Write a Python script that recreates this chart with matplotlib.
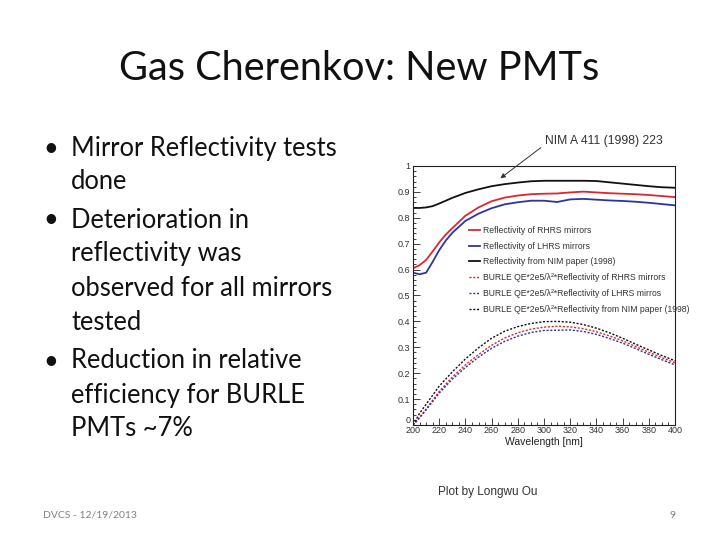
import matplotlib
matplotlib.use("Agg")
import matplotlib.pyplot as plt
from matplotlib.ticker import MultipleLocator, FuncFormatter

# ---- data ----
wl_ref = [200, 205, 210, 215, 220, 225, 230, 240, 250, 260, 270, 280, 290,
          300, 310, 320, 330, 340, 350, 360, 370, 380, 390, 400]
refl_nim = [0.838, 0.838, 0.840, 0.845, 0.855, 0.866, 0.877, 0.896, 0.910, 0.922,
            0.930, 0.936, 0.941, 0.943, 0.943, 0.943, 0.943, 0.942, 0.937, 0.932,
            0.927, 0.922, 0.918, 0.916]
refl_rhrs = [0.605, 0.617, 0.637, 0.670, 0.705, 0.735, 0.760, 0.808, 0.840, 0.864,
             0.878, 0.886, 0.891, 0.893, 0.894, 0.898, 0.901, 0.898, 0.895, 0.893,
             0.891, 0.888, 0.884, 0.880]
refl_lhrs = [0.588, 0.582, 0.588, 0.630, 0.675, 0.712, 0.742, 0.788, 0.816, 0.837,
             0.852, 0.860, 0.866, 0.866, 0.861, 0.871, 0.873, 0.870, 0.867, 0.865,
             0.862, 0.858, 0.853, 0.848]

wl_q = [200, 205, 210, 220, 230, 240, 250, 260, 270, 280, 290, 300, 310, 320,
        330, 340, 350, 360, 370, 380, 390, 400]
q_nim = [0.0, 0.045, 0.080, 0.150, 0.205, 0.255, 0.298, 0.335, 0.362, 0.380, 0.392,
         0.399, 0.400, 0.397, 0.388, 0.374, 0.356, 0.335, 0.312, 0.290, 0.268, 0.248]
q_rhrs = [0.0, 0.030, 0.062, 0.130, 0.185, 0.232, 0.272, 0.308, 0.336, 0.356, 0.370,
          0.378, 0.381, 0.379, 0.372, 0.360, 0.344, 0.325, 0.303, 0.281, 0.260, 0.240]
q_lhrs = [0.0, 0.027, 0.058, 0.123, 0.177, 0.222, 0.262, 0.296, 0.323, 0.343, 0.357,
          0.365, 0.366, 0.367, 0.361, 0.350, 0.334, 0.316, 0.295, 0.273, 0.252, 0.232]

labels = ["Reflectivity of RHRS mirrors",
          "Reflectivity of LHRS mirrors",
          "Reflectivity from NIM paper (1998)",
          "BURLE QE*2e5/\u03bb\u00b2*Reflectivity of RHRS mirrors",
          "BURLE QE*2e5/\u03bb\u00b2*Reflectivity of LHRS mirros",
          "BURLE QE*2e5/\u03bb\u00b2*Reflectivity from NIM paper (1998)"]

title = "Gas Cherenkov: New PMTs"
bullet_lines = [
    ("\u2022", "Mirror Reflectivity tests"),
    (None, "done"),
    ("\u2022", "Deterioration in"),
    (None, "reflectivity was"),
    (None, "observed for all mirrors"),
    (None, "tested"),
    ("\u2022", "Reduction in relative"),
    (None, "efficiency for BURLE"),
    (None, "PMTs ~7%"),
]
line_y = [148, 181, 220, 254, 288, 322, 361, 395, 429]

W, H = 720, 540
fig = plt.figure(figsize=(7.2, 5.4), dpi=100)
fig.patch.set_facecolor("white")

def fx(px):
    return px / W

def fy(py):
    return 1 - py / H

slide_font = ["Lato", "DejaVu Sans"]
fig.text(fx(359), fy(68), title, ha="center", va="center", fontsize=28.6,
         family=slide_font, color="#111111")

for (b, t), y in zip(bullet_lines, line_y):
    if b:
        fig.text(fx(43), fy(y), b, ha="left", va="center", fontsize=18.4,
                 family=slide_font, color="#111111")
    fig.text(fx(71), fy(y), t, ha="left", va="center", fontsize=18.4,
             family=slide_font, color="#111111")

fig.text(fx(43), fy(515), "DVCS - 12/19/2013", ha="left", va="center",
         fontsize=7.5, family=slide_font, color="#808080")
fig.text(fx(673), fy(515), "9", ha="center", va="center",
         fontsize=7.5, family=slide_font, color="#808080")
fig.text(fx(488), fy(492), "Plot by Longwu Ou", ha="center", va="center",
         fontsize=8.5, family="Liberation Sans", color="#333333")

# ---- chart ----
ax = fig.add_axes([fx(413), fy(425), fx(675) - fx(413), fy(166) - fy(425)])
red = "#e0262b"
blue = "#2a36a0"
black = "#111111"
ax.plot(wl_ref, refl_rhrs, color=red, lw=1.3, label=labels[0])
ax.plot(wl_ref, refl_lhrs, color=blue, lw=1.3, label=labels[1])
ax.plot(wl_ref, refl_nim, color=black, lw=1.3, label=labels[2])
ax.plot(wl_q, q_rhrs, color=red, lw=1.0, ls=(0, (1.5, 1.2)), label=labels[3])
ax.plot(wl_q, q_lhrs, color=blue, lw=1.0, ls=(0, (1.5, 1.2)), label=labels[4])
ax.plot(wl_q, q_nim, color=black, lw=1.0, ls=(0, (1.5, 1.2)), label=labels[5])

ax.set_xlim(200, 400)
ax.set_ylim(0, 1)
ax.xaxis.set_major_locator(MultipleLocator(20))
ax.xaxis.set_minor_locator(MultipleLocator(5))
ax.yaxis.set_major_locator(MultipleLocator(0.1))
ax.yaxis.set_minor_locator(MultipleLocator(0.02))
# the "0" label is drawn separately, slightly raised, as in the reference
ax.yaxis.set_major_formatter(FuncFormatter(
    lambda v, p: "" if abs(v) < 1e-9 else "%g" % round(v, 2)))
ax.tick_params(which="both", direction="in", top=False, right=False,
               labelsize=6.5, labelcolor="#333333", color="#222222", width=0.6)
ax.tick_params(which="major", length=5)
ax.tick_params(which="minor", length=2.5)
ax.tick_params(axis="y", which="major", pad=2)
ax.tick_params(axis="x", which="major", pad=0.5)
for s in ax.spines.values():
    s.set_linewidth(0.8)
    s.set_color("#222222")
ax.set_xlabel("Wavelength [nm]", fontsize=7.5, color="#222222", labelpad=1.5,
              family="Liberation Sans")
for t in ax.get_xticklabels() + ax.get_yticklabels():
    t.set_family("Liberation Sans")
ax.text(-0.008, 0.0, "0", transform=ax.transAxes, ha="right", va="bottom",
        fontsize=6.5, color="#333333", family="Liberation Sans")

leg = ax.legend(loc="upper left", bbox_to_anchor=(0.2, 0.783), frameon=False,
                handlelength=1.3, handletextpad=0.4,
                labelspacing=0.8, borderaxespad=0,
                prop={"family": "Liberation Sans", "size": 6.2})
for t in leg.get_texts():
    t.set_color("#333333")
leg.set_clip_on(False)

# annotation arrow
ax.annotate("", xy=(265, 0.946), xycoords="data",
            xytext=(fx(543), fy(146)), textcoords="figure fraction",
            arrowprops=dict(arrowstyle="-|>", color="#333333", lw=0.7,
                            mutation_scale=7))
fig.text(fx(545), fy(141), "NIM A 411 (1998) 223", ha="left", va="center",
         fontsize=8.7, family="Liberation Sans", color="#333333")

fig.savefig("out.png", dpi=100)
